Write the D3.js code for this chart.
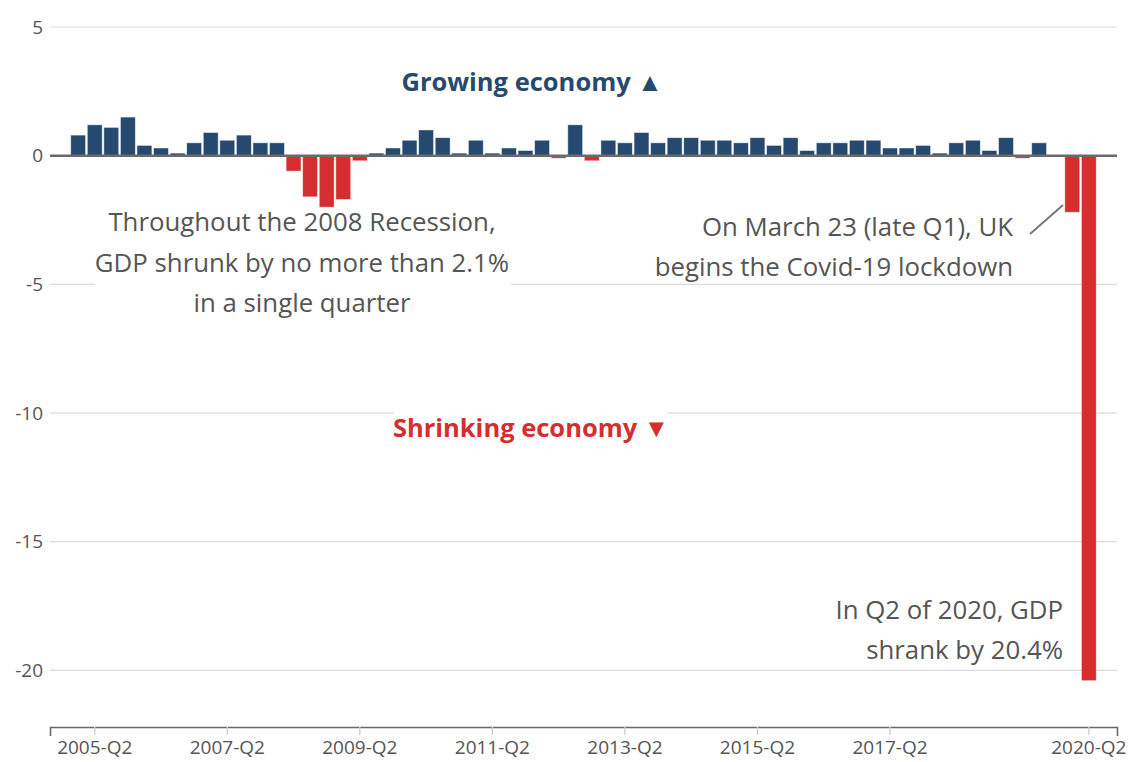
<!DOCTYPE html>
<html>
<head>
<meta charset="utf-8">
<script src="https://cdn.jsdelivr.net/npm/d3@7"></script>
<style>
  html, body { margin: 0; padding: 0; background: #fff; }
  svg { display: block; font-family: "Open Sans", "Noto Sans", sans-serif; }
</style>
</head>
<body>
<svg id="chart" width="1133" height="762"></svg>
<script>
const quarters = [
  "2005-Q1","2005-Q2","2005-Q3","2005-Q4",
  "2006-Q1","2006-Q2","2006-Q3","2006-Q4",
  "2007-Q1","2007-Q2","2007-Q3","2007-Q4",
  "2008-Q1","2008-Q2","2008-Q3","2008-Q4",
  "2009-Q1","2009-Q2","2009-Q3","2009-Q4",
  "2010-Q1","2010-Q2","2010-Q3","2010-Q4",
  "2011-Q1","2011-Q2","2011-Q3","2011-Q4",
  "2012-Q1","2012-Q2","2012-Q3","2012-Q4",
  "2013-Q1","2013-Q2","2013-Q3","2013-Q4",
  "2014-Q1","2014-Q2","2014-Q3","2014-Q4",
  "2015-Q1","2015-Q2","2015-Q3","2015-Q4",
  "2016-Q1","2016-Q2","2016-Q3","2016-Q4",
  "2017-Q1","2017-Q2","2017-Q3","2017-Q4",
  "2018-Q1","2018-Q2","2018-Q3","2018-Q4",
  "2019-Q1","2019-Q2","2019-Q3","2019-Q4",
  "2020-Q1","2020-Q2"
];
const growth = [
  0.8, 1.2, 1.1, 1.5,
  0.4, 0.3, 0.1, 0.5,
  0.9, 0.6, 0.8, 0.5,
  0.5, -0.6, -1.6, -2.0,
  -1.7, -0.2, 0.1, 0.3,
  0.6, 1.0, 0.7, 0.1,
  0.6, 0.1, 0.3, 0.2,
  0.6, -0.1, 1.2, -0.2,
  0.6, 0.5, 0.9, 0.5,
  0.7, 0.7, 0.6, 0.6,
  0.5, 0.7, 0.4, 0.7,
  0.2, 0.5, 0.5, 0.6,
  0.6, 0.3, 0.3, 0.4,
  0.1, 0.5, 0.6, 0.2,
  0.7, -0.1, 0.5, 0.0,
  -2.2, -20.4
];
const xTickLabels = ["2005-Q2","2007-Q2","2009-Q2","2011-Q2","2013-Q2","2015-Q2","2017-Q2","2020-Q2"];
const yTickValues = [5, 0, -5, -10, -15, -20];
const yTickLabels = ["5", "0", "-5", "-10", "-15", "-20"];

const growingLabel = "Growing economy ▲";
const shrinkingLabel = "Shrinking economy ▼";
const recessionNote = ["Throughout the 2008 Recession,", "GDP shrunk by no more than 2.1%", "in a single quarter"];
const lockdownNote = ["On March 23 (late Q1), UK", "begins the Covid-19 lockdown"];
const q2Note = ["In Q2 of 2020, GDP", "shrank by 20.4%"];

(function () {
const data = quarters.map((q, i) => ({ q, v: growth[i] }));

const BLUE = "#264a6f";
const RED = "#d62e2e";
const TXT = "#555";
const NOTE_SIZE = 25.8;

const svg = d3.select("#chart");
const mLeft = 50, mRight = 1117, mTop = 27, mBottom = 727;

const x = d3.scaleBand().domain(quarters).range([mLeft, mRight]).paddingInner(0.1).paddingOuter(1.25);
const y = d3.scaleLinear().domain([-22.2, 5]).range([mBottom, mTop]);

// gridlines
svg.append("g").selectAll("line").data(yTickValues).join("line")
  .attr("x1", mLeft).attr("x2", mRight)
  .attr("y1", d => y(d)).attr("y2", d => y(d))
  .attr("stroke", "#dcdcdc").attr("stroke-width", 1.2);
svg.append("g").selectAll("text").data(yTickValues).join("text")
  .attr("x", 43).attr("y", d => y(d)).attr("dy", "0.35em")
  .attr("text-anchor", "end").attr("fill", TXT).attr("font-size", 19)
  .text((d, i) => yTickLabels[i]);

// annotation backgrounds
svg.append("rect").attr("x", 95).attr("y", 208).attr("width", 416).attr("height", 112).attr("fill", "#fff");
svg.append("rect").attr("x", 394).attr("y", 405).attr("width", 273).attr("height", 40).attr("fill", "#fff");

// bars
svg.append("g").selectAll("rect").data(data).join("rect")
  .attr("x", d => x(d.q))
  .attr("width", x.bandwidth())
  .attr("y", d => y(Math.max(0, d.v)))
  .attr("height", d => Math.abs(y(d.v) - y(0)))
  .attr("fill", d => d.v < 0 ? RED : BLUE)
  .attr("stroke", "#fff").attr("stroke-opacity", 0.6).attr("stroke-width", 0.8);

// zero baseline
svg.append("line").attr("x1", mLeft).attr("x2", mRight).attr("y1", y(0)).attr("y2", y(0))
  .attr("stroke", "#6a6a6a").attr("stroke-width", 2.6);

// x axis
const xAxis = d3.axisBottom(x).tickValues(xTickLabels).tickSize(8).tickSizeOuter(9).tickPadding(6);
const gx = svg.append("g").attr("transform", `translate(0,${mBottom})`).call(xAxis);
gx.select(".domain").attr("stroke", "#6a6a6a").attr("stroke-width", 1.6);
gx.selectAll(".tick line").attr("stroke", "#cfcfcf").attr("stroke-width", 1.4);
gx.selectAll(".tick text").attr("fill", TXT).attr("font-size", 19)
  .attr("font-family", "'Open Sans', 'Noto Sans', sans-serif");

// labels
svg.append("text").attr("x", 532).attr("y", 91).attr("text-anchor", "middle")
  .attr("font-size", 25.5).attr("font-weight", "bold").attr("fill", BLUE).text(growingLabel);
svg.append("text").attr("x", 531).attr("y", 437).attr("text-anchor", "middle")
  .attr("font-size", 25.5).attr("font-weight", "bold").attr("fill", RED).text(shrinkingLabel);

svg.append("g").selectAll("text").data(recessionNote).join("text")
  .attr("x", 302).attr("y", (d, i) => 231 + i * 40.5).attr("text-anchor", "middle")
  .attr("font-size", NOTE_SIZE).attr("fill", TXT).text(d => d);

svg.append("g").selectAll("text").data(lockdownNote).join("text")
  .attr("x", 1013).attr("y", (d, i) => 236 + i * 39.5).attr("text-anchor", "end")
  .attr("font-size", NOTE_SIZE).attr("fill", TXT).text(d => d);

svg.append("line").attr("x1", 1030).attr("y1", 234).attr("x2", 1063).attr("y2", 205)
  .attr("stroke", "#777").attr("stroke-width", 2);

svg.append("g").selectAll("text").data(q2Note).join("text")
  .attr("x", 1063).attr("y", (d, i) => 619 + i * 40).attr("text-anchor", "end")
  .attr("font-size", NOTE_SIZE).attr("fill", TXT).text(d => d);
})();
</script>
</body>
</html>
